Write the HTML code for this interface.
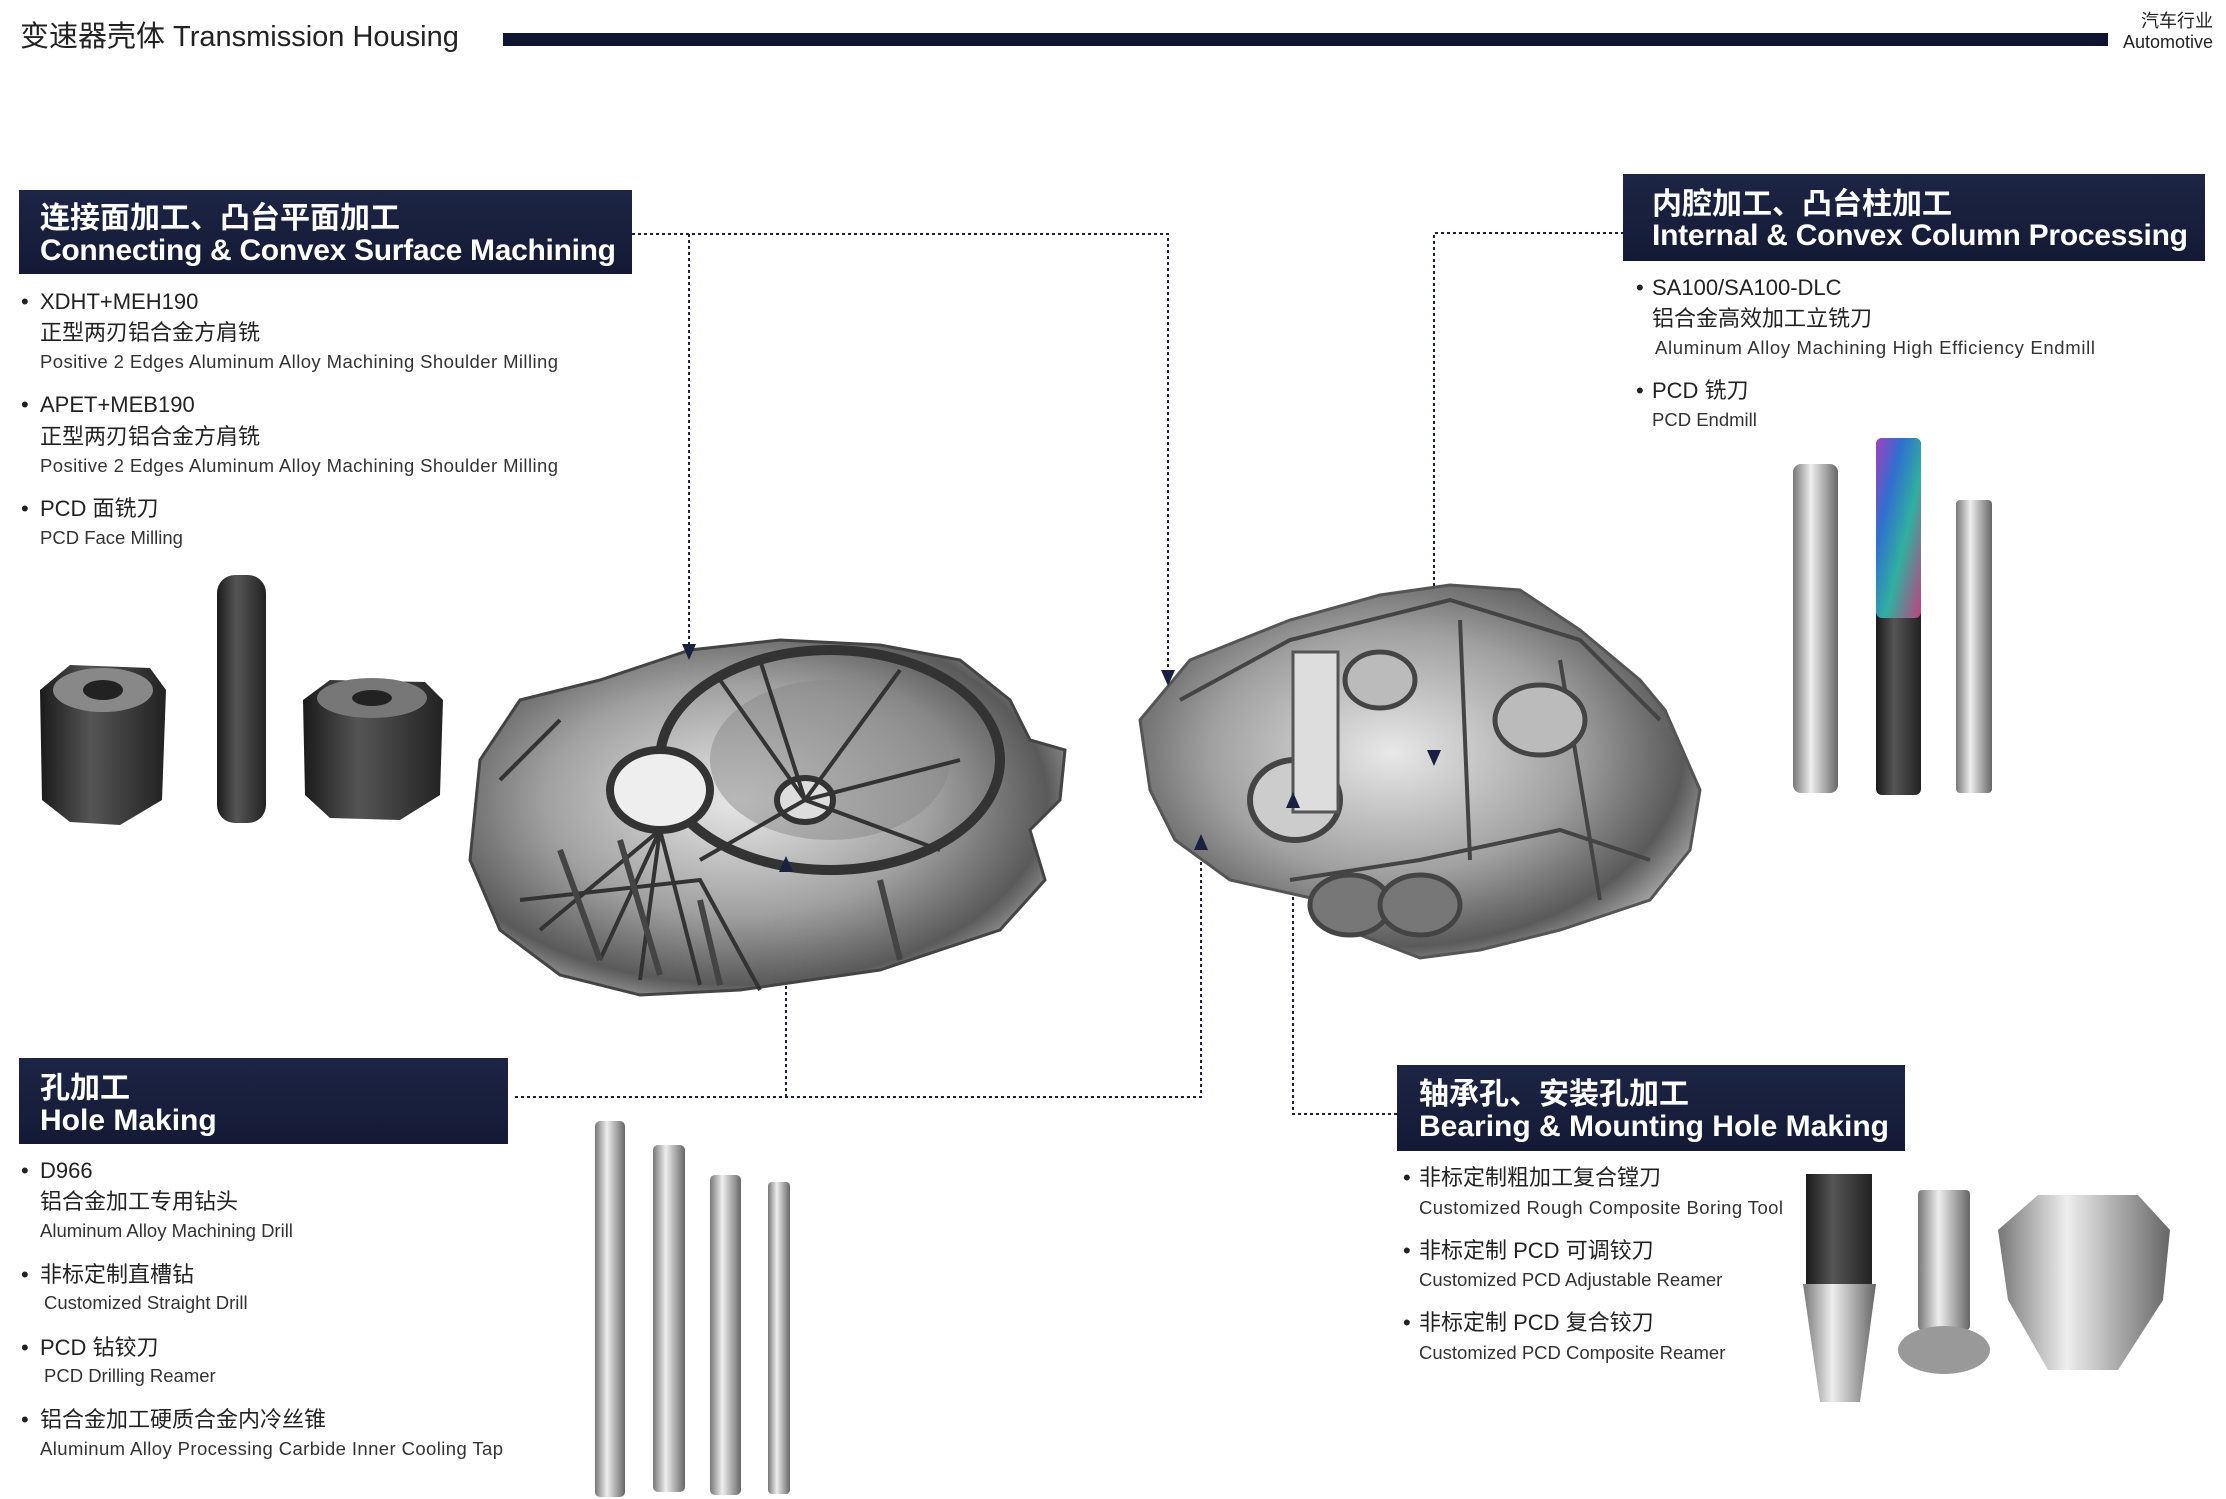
<!DOCTYPE html>
<html><head><meta charset="utf-8">
<style>
html,body{margin:0;padding:0;background:#fff;}
svg{display:block;}
text{font-family:"Liberation Sans","Noto Sans CJK SC",sans-serif;fill:#222;}
.h{fill:#fff;font-weight:bold;font-size:30px;}
.a{font-size:22px;}
.c{font-size:22px;}
.e{font-size:18.5px;fill:#333;}
</style></head><body>
<svg width="2226" height="1499" viewBox="0 0 2226 1499" xmlns="http://www.w3.org/2000/svg">
<defs>
<linearGradient id="box" x1="0" y1="0" x2="0" y2="1"><stop offset="0" stop-color="#1d2545"/><stop offset="1" stop-color="#141a35"/></linearGradient>
<radialGradient id="metal" cx="0.45" cy="0.45" r="0.65"><stop offset="0" stop-color="#e8e8e8"/><stop offset="0.5" stop-color="#a0a0a0"/><stop offset="0.8" stop-color="#5a5a5a"/><stop offset="1" stop-color="#c8c8c8"/></radialGradient>
<linearGradient id="rod" x1="0" y1="0" x2="1" y2="0"><stop offset="0" stop-color="#777"/><stop offset="0.4" stop-color="#eee"/><stop offset="0.7" stop-color="#aaa"/><stop offset="1" stop-color="#666"/></linearGradient>
<linearGradient id="dark" x1="0" y1="0" x2="1" y2="0"><stop offset="0" stop-color="#1a1a1a"/><stop offset="0.4" stop-color="#555"/><stop offset="1" stop-color="#222"/></linearGradient>
<linearGradient id="rainbow" x1="0" y1="0" x2="1" y2="1"><stop offset="0" stop-color="#a040c0"/><stop offset="0.3" stop-color="#3070d0"/><stop offset="0.6" stop-color="#30b0a0"/><stop offset="1" stop-color="#c04080"/></linearGradient>
</defs>

<text x="20" y="46" style="font-size:29px;fill:#222">变速器壳体 Transmission Housing</text>
<rect x="503" y="33" width="1605" height="13" fill="#0f1430"/>
<text x="2213" y="27" text-anchor="end" style="font-size:18px">汽车行业</text>
<text x="2213" y="48" text-anchor="end" style="font-size:18px">Automotive</text>

<g stroke="#1a2040" stroke-width="2" stroke-dasharray="3,3" fill="none">
<path d="M632 234 H1168 V672"/>
<path d="M689 234 V645"/>
<path d="M1630 233 H1434 V752"/>
<path d="M515 1097 H1201 V850"/>
<path d="M786 1097 V870"/>
<path d="M1397 1114 H1293 V808"/>
</g>

<polygon points="480,760 520,700 600,680 690,650 780,640 880,645 960,660 1010,700 1030,740 1065,750 1060,800 1030,830 1045,880 1000,930 880,970 740,990 640,995 560,975 500,930 470,860" fill="url(#metal)" stroke="#444" stroke-width="3"/>
<ellipse cx="830" cy="760" rx="170" ry="110" fill="none" stroke="#333" stroke-width="10"/>
<ellipse cx="830" cy="760" rx="120" ry="80" fill="#888" opacity="0.5"/>
<ellipse cx="660" cy="790" rx="50" ry="40" fill="#eee" stroke="#333" stroke-width="8"/>
<ellipse cx="805" cy="800" rx="28" ry="22" fill="#ddd" stroke="#333" stroke-width="6"/>
<g stroke="#333" stroke-width="4" fill="none">
<path d="M805 800 L720 680 M805 800 L900 670 M805 800 L960 760 M805 800 L940 850 M805 800 L700 860 M805 800 L760 660"/>
<path d="M660 830 L600 960 M660 830 L640 980 M660 830 L700 985 M660 830 L540 930"/>
<path d="M500 780 L560 720 M520 900 L700 880 L760 990"/>
</g>
<path d="M560 850 L600 960 M620 840 L660 975 M700 900 L720 985 M880 880 L900 960" stroke="#444" stroke-width="6"/>
<polygon points="1140,720 1190,660 1290,620 1380,595 1450,585 1520,590 1580,630 1640,680 1665,710 1700,790 1690,850 1650,900 1560,930 1480,950 1420,958 1360,935 1320,900 1230,880 1175,840 1150,790" fill="url(#metal)" stroke="#555" stroke-width="3"/>
<g stroke="#444" stroke-width="4" fill="none">
<path d="M1180 700 L1290 640 L1450 600 L1580 640 L1660 720"/>
<path d="M1290 880 L1420 860 L1560 830 L1650 860"/>
<path d="M1460 620 L1470 860 M1560 660 L1600 900"/>
</g>
<ellipse cx="1295" cy="800" rx="45" ry="40" fill="#ccc" stroke="#444" stroke-width="6"/>
<ellipse cx="1350" cy="905" rx="40" ry="30" fill="#777" stroke="#444" stroke-width="5"/>
<ellipse cx="1420" cy="905" rx="40" ry="30" fill="#777" stroke="#444" stroke-width="5"/>
<ellipse cx="1540" cy="720" rx="45" ry="35" fill="#bbb" stroke="#444" stroke-width="5"/>
<ellipse cx="1380" cy="680" rx="35" ry="28" fill="#bbb" stroke="#444" stroke-width="5"/>
<rect x="1293" y="652" width="45" height="160" fill="#ddd" stroke="#555" stroke-width="3"/>

<g fill="#1a2040">
<polygon points="682,644 696,644 689,660"/>
<polygon points="1161,670 1175,670 1168,686"/>
<polygon points="1427,750 1441,750 1434,766"/>
<polygon points="779,872 793,872 786,856"/>
<polygon points="1194,850 1208,850 1201,834"/>
<polygon points="1286,808 1300,808 1293,792"/>
</g>

<rect x="19" y="190" width="613" height="84" fill="url(#box)"/>
<text class="h" x="40" y="228">连接面加工、凸台平面加工</text>
<text class="h" x="40" y="260" textLength="576">Connecting &amp; Convex Surface Machining</text>
<text class="a" x="21" y="309">•</text><text class="a" x="40" y="309">XDHT+MEH190</text>
<text class="c" x="40" y="340">正型两刃铝合金方肩铣</text>
<text class="e" x="40" y="368" textLength="518">Positive 2 Edges Aluminum Alloy Machining Shoulder Milling</text>
<text class="a" x="21" y="412">•</text><text class="a" x="40" y="412">APET+MEB190</text>
<text class="c" x="40" y="444">正型两刃铝合金方肩铣</text>
<text class="e" x="40" y="472" textLength="518">Positive 2 Edges Aluminum Alloy Machining Shoulder Milling</text>
<text class="a" x="21" y="516">•</text><text class="a" x="40" y="516">PCD 面铣刀</text>
<text class="e" x="40" y="544">PCD Face Milling</text>
<path d="M40 690 L70 665 L150 668 L166 690 L162 800 L120 825 L70 822 L42 800 Z" fill="url(#dark)"/>
<ellipse cx="103" cy="690" rx="50" ry="22" fill="#888"/><ellipse cx="103" cy="690" rx="20" ry="10" fill="#222"/>
<rect x="217" y="575" width="49" height="248" rx="18" fill="url(#dark)"/>
<path d="M303 700 L330 680 L425 682 L443 700 L440 795 L400 820 L330 818 L305 795 Z" fill="url(#dark)"/>
<ellipse cx="372" cy="698" rx="55" ry="20" fill="#777"/><ellipse cx="372" cy="698" rx="20" ry="8" fill="#222"/>

<rect x="1623" y="174" width="582" height="87" fill="url(#box)"/>
<text class="h" x="1652" y="214">内腔加工、凸台柱加工</text>
<text class="h" x="1652" y="245" textLength="536">Internal &amp; Convex Column Processing</text>
<text class="a" x="1636" y="295">•</text><text class="a" x="1652" y="295">SA100/SA100-DLC</text>
<text class="c" x="1652" y="326">铝合金高效加工立铣刀</text>
<text class="e" x="1655" y="354" textLength="440">Aluminum Alloy Machining  High Efficiency Endmill</text>
<text class="a" x="1636" y="398">•</text><text class="a" x="1652" y="398">PCD 铣刀</text>
<text class="e" x="1652" y="426">PCD Endmill</text>
<rect x="1793" y="464" width="45" height="329" rx="8" fill="url(#rod)"/>
<rect x="1876" y="438" width="45" height="357" rx="6" fill="url(#dark)"/>
<rect x="1876" y="438" width="45" height="180" rx="6" fill="url(#rainbow)"/>
<rect x="1956" y="500" width="36" height="293" rx="4" fill="url(#rod)"/>

<rect x="19" y="1058" width="489" height="86" fill="url(#box)"/>
<text class="h" x="40" y="1098">孔加工</text>
<text class="h" x="40" y="1130">Hole Making</text>
<text class="a" x="21" y="1178">•</text><text class="a" x="40" y="1178">D966</text>
<text class="c" x="40" y="1209">铝合金加工专用钻头</text>
<text class="e" x="40" y="1237">Aluminum Alloy Machining Drill</text>
<text class="a" x="21" y="1282">•</text><text class="c" x="40" y="1282">非标定制直槽钻</text>
<text class="e" x="44" y="1309">Customized Straight Drill</text>
<text class="a" x="21" y="1355">•</text><text class="a" x="40" y="1355">PCD 钻铰刀</text>
<text class="e" x="44" y="1382">PCD Drilling Reamer</text>
<text class="a" x="21" y="1427">•</text><text class="c" x="40" y="1427">铝合金加工硬质合金内冷丝锥</text>
<text class="e" x="40" y="1455" textLength="463">Aluminum Alloy Processing Carbide Inner Cooling Tap</text>
<rect x="595" y="1121" width="30" height="376" rx="5" fill="url(#rod)"/>
<rect x="653" y="1145" width="32" height="347" rx="5" fill="url(#rod)"/>
<rect x="710" y="1175" width="31" height="320" rx="5" fill="url(#rod)"/>
<rect x="768" y="1182" width="22" height="312" rx="4" fill="url(#rod)"/>

<rect x="1397" y="1065" width="508" height="86" fill="url(#box)"/>
<text class="h" x="1419" y="1104">轴承孔、安装孔加工</text>
<text class="h" x="1419" y="1136">Bearing &amp; Mounting Hole Making</text>
<text class="a" x="1403" y="1185">•</text><text class="c" x="1419" y="1185">非标定制粗加工复合镗刀</text>
<text class="e" x="1419" y="1214" textLength="364">Customized Rough Composite Boring Tool</text>
<text class="a" x="1403" y="1258">•</text><text class="c" x="1419" y="1258">非标定制 PCD 可调铰刀</text>
<text class="e" x="1419" y="1286">Customized PCD Adjustable Reamer</text>
<text class="a" x="1403" y="1330">•</text><text class="c" x="1419" y="1330">非标定制 PCD 复合铰刀</text>
<text class="e" x="1419" y="1359">Customized PCD Composite Reamer</text>
<rect x="1806" y="1174" width="66" height="110" fill="url(#dark)"/>
<polygon points="1803,1284 1876,1284 1860,1402 1820,1402" fill="url(#rod)"/>
<rect x="1918" y="1190" width="52" height="140" rx="4" fill="url(#rod)"/>
<ellipse cx="1944" cy="1350" rx="46" ry="24" fill="#999"/>
<path d="M1998 1230 L2038 1195 L2138 1195 L2170 1230 L2163 1300 L2118 1370 L2048 1370 L2008 1300 Z" fill="url(#rod)"/>
</svg>
</body></html>
